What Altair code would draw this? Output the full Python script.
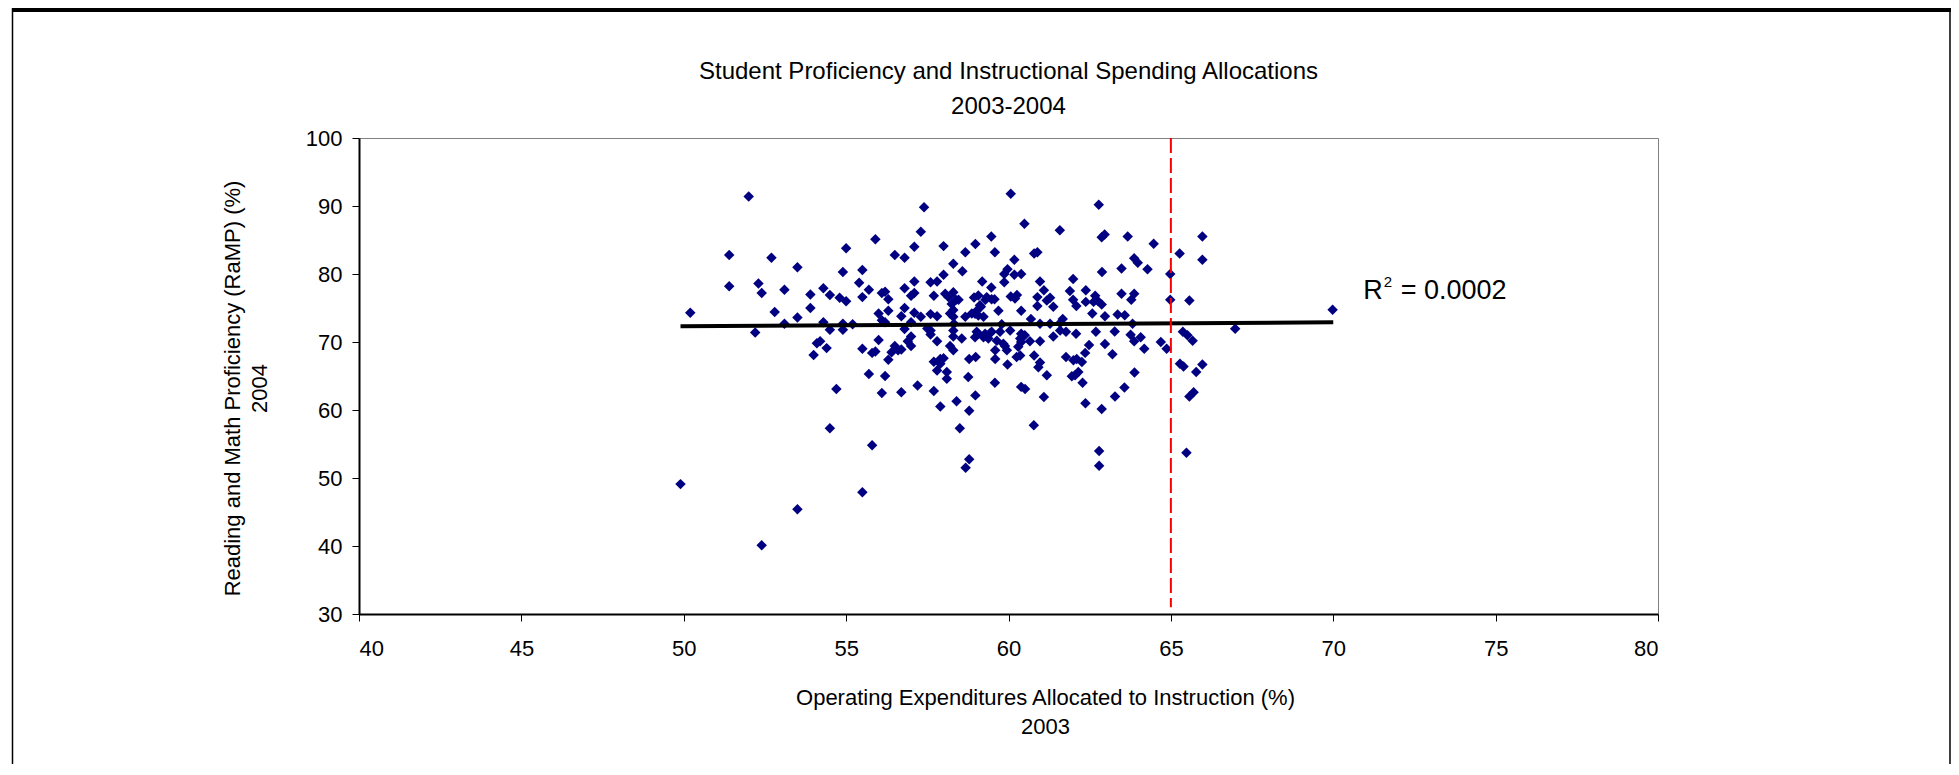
import altair as alt
import pandas as pd

# ---- data ----
spend = [
    49.9, 50.2, 51.4, 51.4, 52.0, 52.2, 52.3, 52.4, 52.4, 52.7, 52.8, 53.1, 53.1, 53.5, 53.5, 53.5,
    53.9, 53.9, 54.0, 54.1, 54.2, 54.3, 54.3, 54.4, 54.5, 54.5, 54.5, 54.7, 54.8, 54.9, 54.9, 54.9,
    55.0, 55.0, 55.2, 55.4, 55.5, 55.5, 55.5, 55.5, 55.7, 55.7, 55.8, 55.8, 55.9, 55.9, 56.0, 56.0,
    56.1, 56.1, 56.1, 56.2, 56.2, 56.2, 56.3, 56.3, 56.3, 56.4, 56.5, 56.5,
    56.6, 56.7, 56.7, 56.7, 56.8, 56.8, 56.8, 56.8, 56.9, 57.0, 57.0, 57.0, 57.0, 57.1, 57.1, 57.1,
    57.1, 57.2, 57.3, 57.3, 57.4, 57.5, 57.6, 57.6, 57.6, 57.6, 57.7, 57.7, 57.7, 57.8, 57.8, 57.8,
    57.8, 57.9, 57.9, 57.9, 58.0, 58.0, 58.0, 58.05, 58.1, 58.1, 58.15, 58.2, 58.2, 58.25, 58.3, 58.3,
    58.3, 58.3, 58.3, 58.3, 58.3, 58.4, 58.46, 58.5, 58.32, 58.38,
    58.56, 58.58, 58.67, 58.67, 58.76, 58.79, 58.79, 58.79, 58.68, 58.87, 58.94, 58.97, 58.97, 58.98,
    58.98, 58.99, 59.02, 59.02, 59.07, 59.07, 59.07, 59.12, 59.15, 59.19, 59.23, 59.23, 59.28, 59.29,
    59.33, 59.38, 59.43, 59.47, 59.47, 59.48, 59.48, 59.57, 59.58, 59.58, 59.59, 59.59, 59.64, 59.69,
    59.74, 59.79, 59.84, 59.87, 59.87, 59.89, 59.95, 59.97, 59.97,
    60.05, 60.07, 60.07, 60.18, 60.18, 60.2, 60.25, 60.26, 60.3, 60.36, 60.36, 60.39, 60.39, 60.39,
    60.39, 60.39, 60.49, 60.5, 60.51, 60.66, 60.69, 60.78, 60.79, 60.79, 60.89, 60.89, 60.89, 60.92,
    60.97, 60.97, 60.97, 60.97, 61.09, 61.09, 61.18, 61.18, 61.28, 61.28, 61.38, 61.38, 61.58, 61.59,
    61.59, 61.67, 61.77, 61.77, 61.89, 61.95, 61.99, 61.99, 62.0, 62.05, 62.08, 62.09, 62.1, 62.15,
    62.26, 62.28, 62.36, 62.37, 62.38, 62.38, 62.48, 62.58, 62.62, 62.67, 62.69, 62.76, 62.78, 62.79,
    62.79, 62.87, 62.87, 62.87, 62.88, 62.96, 62.97, 62.97, 63.2, 63.27, 63.28, 63.36, 63.48, 63.48,
    63.57, 63.58, 63.67, 63.76, 63.78, 63.82, 63.87, 63.87, 63.87, 63.88, 63.98, 64.07, 64.18, 64.28,
    64.47, 64.69, 64.87, 64.98, 64.98, 65.27, 65.28, 65.37, 65.39, 65.48, 65.51, 65.57, 65.57, 65.67,
    65.7, 65.78, 65.97, 65.97, 65.97, 66.98, 69.98,
]
prof = [
    49.1, 74.3, 82.8, 78.2, 91.4, 71.4, 78.6, 77.2, 40.1, 82.4, 74.4, 77.7, 72.7, 81.0, 73.6, 45.4,
    77.0, 75.0, 68.1, 69.8, 70.1, 77.9, 72.9, 69.1, 76.9, 71.8, 57.3, 63.1, 76.5, 80.3, 72.7, 71.8,
    76.0, 83.8, 72.6, 78.7, 80.6, 76.6, 69.0, 47.9, 77.7, 65.3, 68.4, 54.8, 85.1, 68.6, 74.2, 70.3,
    77.2, 73.2, 62.5, 77.4, 72.9, 65.0, 76.3, 74.6, 67.4, 68.5, 82.8, 69.4,
    68.8, 68.9, 73.8, 62.6, 82.4, 77.9, 75.0, 71.9, 70.1, 76.8, 72.9, 70.8, 69.4, 84.0, 78.9, 77.2,
    74.3, 63.6, 86.2, 73.7, 89.8, 72.0, 78.8, 74.1, 71.7, 71.1, 76.8, 67.1, 62.8, 78.9, 73.8, 70.1,
    65.8, 66.8, 60.5, 67.5, 84.1, 79.9, 67.6, 77.1, 65.6, 64.6, 76.6, 69.4, 74.2, 75.6, 81.5, 77.3,
    74.7, 73.7, 70.8, 68.8, 71.7, 61.3, 76.2, 57.3, 72.7, 76.2,
    70.5, 80.4, 83.2, 73.7, 64.85, 67.5, 59.9, 52.75, 51.5, 74.2, 76.55, 74.15, 70.7, 84.4,
    62.15, 67.8, 74.6, 71.5, 71.2, 76.85, 73.9, 75.4, 75.2, 78.9, 73.7, 70.7, 71.2, 76.2,
    76.6, 70.5, 71.3, 85.5, 78.0, 76.3, 71.5, 76.3, 83.2, 64.0, 68.8, 67.5, 70.2, 74.6,
    71.5, 72.6, 69.75, 80.0, 78.8, 69.4, 68.8, 80.7, 66.7,
    71.7, 91.8, 76.7, 82.1, 79.9, 76.4, 67.8, 76.9, 69.3, 68.0, 70.5, 80.0, 74.6, 71.2,
    70.0, 63.4, 87.4, 71.0, 63.1, 70.1, 73.4, 57.75, 83.0, 68.0, 83.2, 76.6, 75.3, 66.3,
    78.9, 72.7, 70.1, 67.0, 77.6, 61.9, 76.1, 65.1, 76.5, 72.7, 75.2, 70.8, 86.45, 72.8,
    71.7, 73.4, 71.5, 67.8, 77.5, 64.95, 79.25, 76.2, 67.3, 65.1, 71.2, 75.3, 67.5, 65.6,
    67.05, 64.0, 68.4, 61.0, 77.6, 75.9, 69.55, 74.2, 75.9, 76.8, 71.5, 76.0, 90.2, 53.97,
    51.8, 85.4, 75.5, 60.15, 80.3, 85.8, 73.8, 69.7, 68.2, 71.55, 62.0, 74.05, 80.8, 77.1,
    63.3, 73.95, 85.5, 71.07, 76.2, 72.7, 82.3, 77.1, 70.1, 65.5, 81.65, 70.7, 69.0, 80.7,
    84.45, 70.0, 69.0, 80.0, 76.2, 83.0, 66.8, 71.5, 66.4, 53.7, 71.0, 76.1, 62.0, 70.2,
    62.6, 65.6, 85.5, 82.1, 66.7, 71.95, 74.75,
]

trend_spend = [49.9, 70.0]
trend_prof = [72.3, 72.9]

target_spend = [65]
target_top = [100]
target_bottom = [31]

r2_spend = [70.92]
r2_prof = [76.35]

FONT = "Liberation Sans"

df = pd.DataFrame({"spend": spend, "prof": prof})
trend_df = pd.DataFrame({"spend": trend_spend, "prof": trend_prof})
target_df = pd.DataFrame({"spend": target_spend, "prof": target_top, "prof_end": target_bottom})
r2_df = pd.DataFrame({"spend": r2_spend, "prof": r2_prof})
one = pd.DataFrame({"a": [0]})

xscale = alt.Scale(domain=[40, 80], nice=False, zero=False)
yscale = alt.Scale(domain=[30, 100], nice=False, zero=False)

xaxis = alt.Axis(
    values=list(range(40, 81, 5)),
    title=["Operating Expenditures Allocated to Instruction (%)", "2003"],
    grid=False, tickSize=7, labelPadding=17,
    titleX=686, titleY=73, titleBaseline="top", titleAlign="center",
    titleLineHeight=29,
)
yaxis = alt.Axis(
    values=list(range(30, 101, 10)),
    title=["Reading and Math Proficiency (RaMP) (%)", "2004"],
    grid=False, tickSize=7, labelPadding=10,
    titleAngle=270, titleX=-137, titleY=250, titleBaseline="top",
    titleAlign="center", titleLineHeight=27,
)

X = alt.X("spend:Q", scale=xscale, axis=xaxis)
Y = alt.Y("prof:Q", scale=yscale, axis=yaxis)

points = alt.Chart(df).mark_point(
    shape="diamond", filled=True, size=110, color="#000080", opacity=1
).encode(x=X, y=Y)

trend = alt.Chart(trend_df).mark_line(color="black", strokeWidth=4).encode(x=X, y=Y)

target = alt.Chart(target_df).mark_rule(
    color="#FF0000", strokeWidth=2, strokeDash=[15, 5]
).encode(x=X, y=Y, y2="prof_end:Q")

r_text = alt.Chart(r2_df).mark_text(
    text="R", align="left", baseline="alphabetic", fontSize=27, font=FONT, color="black"
).encode(x=X, y=Y)
sup_text = alt.Chart(r2_df).mark_text(
    text="2", align="left", baseline="alphabetic", fontSize=15, font=FONT, color="black",
    dx=20.5, dy=-11.6
).encode(x=X, y=Y)
val_text = alt.Chart(r2_df).mark_text(
    text="= 0.0002", align="left", baseline="alphabetic", fontSize=27, font=FONT, color="black",
    dx=37.5
).encode(x=X, y=Y)

frame_top = alt.Chart(one).mark_rule(color="black", strokeWidth=5).encode(
    x=alt.value(-347), x2=alt.value(1592), y=alt.value(-128.5)
)
frame_left = alt.Chart(one).mark_rule(color="black", strokeWidth=1.5).encode(
    x=alt.value(-346.5), y=alt.value(-130), y2=alt.value(626)
)
frame_right = alt.Chart(one).mark_rule(color="black", strokeWidth=1.5).encode(
    x=alt.value(1591), y=alt.value(-130), y2=alt.value(626)
)

chart = alt.layer(
    points, trend, target, r_text, sup_text, val_text, frame_top, frame_left, frame_right
).properties(
    width=1299,
    height=476,
    padding={"left": 351, "top": 130, "right": 293, "bottom": 150},
    autosize=alt.AutoSizeParams(type="none"),
    background="white",
    title=alt.TitleParams(
        text=["Student Proficiency and Instructional Spending Allocations", "2003-2004"],
        font=FONT, fontSize=24, fontWeight="normal", color="black",
        anchor="middle", dx=0, offset=-136, lineHeight=35, baseline="bottom",
    ),
).configure_view(
    stroke="#808080", strokeWidth=1
).configure_axis(
    domainColor="black", domainWidth=2, tickColor="#000000", tickWidth=1,
    labelFont=FONT, labelFontSize=22, labelColor="black",
    titleFont=FONT, titleFontSize=22, titleColor="black", titleFontWeight="normal",
)

chart.save("out.html", embed_options={"renderer": "svg", "actions": False})
